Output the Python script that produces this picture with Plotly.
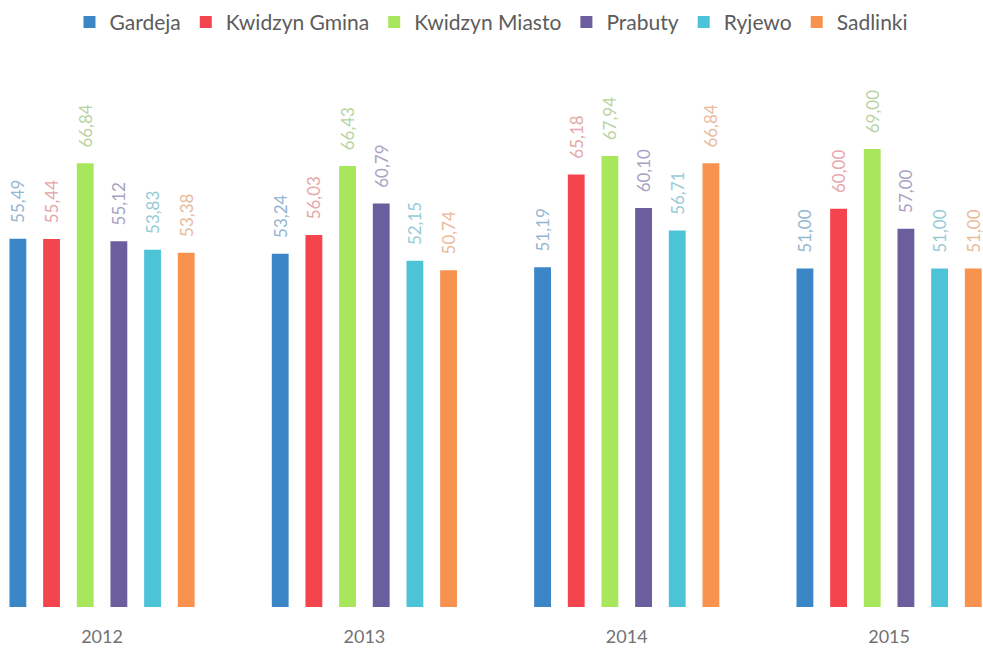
import plotly.graph_objects as go

years = ["2012", "2013", "2014", "2015"]
series_names = ["Gardeja", "Kwidzyn Gmina", "Kwidzyn Miasto", "Prabuty", "Ryjewo", "Sadlinki"]
gardeja = [55.49, 53.24, 51.19, 51.00]
kwidzyn_gmina = [55.44, 56.03, 65.18, 60.00]
kwidzyn_miasto = [66.84, 66.43, 67.94, 69.00]
prabuty = [55.12, 60.79, 60.10, 57.00]
ryjewo = [53.83, 52.15, 56.71, 51.00]
sadlinki = [53.38, 50.74, 66.84, 51.00]
values = [gardeja, kwidzyn_gmina, kwidzyn_miasto, prabuty, ryjewo, sadlinki]

colors = ["#3b86c6", "#f4444e", "#a8e65c", "#6a5e9e", "#4dc3d8", "#f8924f"]
label_colors = ["#95b6d0", "#e6a6aa", "#b8d3a0", "#a7a3c2", "#98cbd6", "#e9bb9c"]

fig = go.Figure()
for name, vals, c, lc in zip(series_names, values, colors, label_colors):
    fig.add_trace(go.Bar(
        name=name, x=years, y=vals,
        marker=dict(color=c, line=dict(width=0)),
        text=["\u2003" + f"{v:.2f}".replace(".", ",") for v in vals],
        textposition="outside", textangle=-90, constraintext="none",
        textfont=dict(color=lc, size=17, family="Lato"),
        cliponaxis=False,
    ))

fig.update_layout(
    width=983, height=648,
    margin=dict(l=0, r=0, t=80, b=41),
    paper_bgcolor="white", plot_bgcolor="white",
    barmode="group", bargap=0.23, bargroupgap=0.5,
    showlegend=True,
    legend=dict(orientation="h", x=0.5, xanchor="center", y=0.997, yanchor="top",
                yref="container", font=dict(size=21, color="#5c5c5c", family="Lato"),
                itemwidth=30, traceorder="normal"),
    xaxis=dict(range=[-0.389, 3.358], showgrid=False, zeroline=False, showline=False,
               ticks="", ticklabelstandoff=17,
               tickfont=dict(size=18, color="#727272", family="Lato")),
    yaxis=dict(range=[0, 79.4], visible=False),
)
fig.write_html(
    "out.html",
    config={"displayModeBar": False},
    post_script="document.body.style.margin='0';document.body.style.overflow='hidden';",
)
